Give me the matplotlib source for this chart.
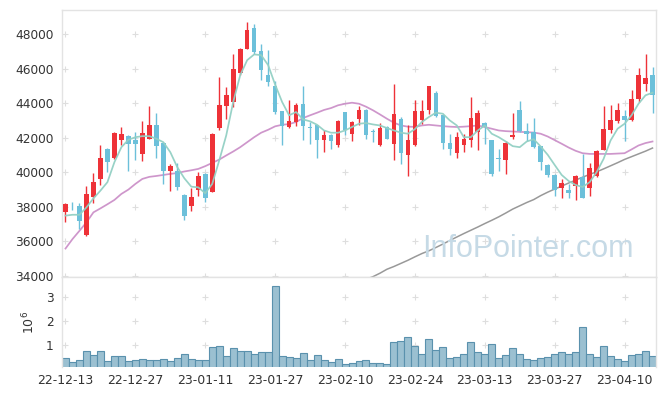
import matplotlib
matplotlib.use("Agg")
import matplotlib.pyplot as plt
import numpy as np

dates = (
    ["22-12-13", "22-12-14", "22-12-15", "22-12-16", "22-12-19", "22-12-20", "22-12-21",
     "22-12-22", "22-12-23", "22-12-26", "22-12-27", "22-12-28", "22-12-29"]
    + ["23-01-02", "23-01-03", "23-01-04", "23-01-05", "23-01-06", "23-01-09", "23-01-10",
       "23-01-11", "23-01-12", "23-01-13", "23-01-16", "23-01-17", "23-01-18", "23-01-19",
       "23-01-20", "23-01-25", "23-01-26", "23-01-27", "23-01-30", "23-01-31"]
    + ["23-02-01", "23-02-02", "23-02-03", "23-02-06", "23-02-07", "23-02-08", "23-02-09",
       "23-02-10", "23-02-13", "23-02-14", "23-02-15", "23-02-16", "23-02-17", "23-02-20",
       "23-02-21", "23-02-22", "23-02-23", "23-02-24", "23-02-27", "23-02-28"]
    + ["23-03-02", "23-03-03", "23-03-06", "23-03-07", "23-03-08", "23-03-09", "23-03-10",
       "23-03-13", "23-03-14", "23-03-15", "23-03-16", "23-03-17", "23-03-20", "23-03-21",
       "23-03-22", "23-03-23", "23-03-24", "23-03-27", "23-03-28", "23-03-29", "23-03-30",
       "23-03-31"]
    + ["23-04-03", "23-04-04", "23-04-05", "23-04-06", "23-04-07", "23-04-10", "23-04-11",
       "23-04-12", "23-04-13", "23-04-14"]
)

open_ = [37680, 38180, 38050, 36380, 38550, 39640, 41370, 40820, 41870, 42080,
         41890, 41060, 41950, 42720, 41710, 40070, 40100, 38710, 38070, 38960,
         39930, 38880, 42570, 43850, 44080, 45770, 47170, 48350, 47030, 45670,
         44990, 43580, 42630, 42920, 43980, 42610, 42720, 41850, 42140, 41560,
         43480, 42220, 43070, 43600, 42370, 41580, 42610, 41640, 43070, 41020,
         41560, 43010, 43600, 44590, 43310, 41680, 41130, 41570, 41850, 42340,
         42880, 41850, 40840, 40740, 42040, 43640, 42390, 42340, 41500, 40450,
         39850, 39100, 39000, 39190, 39740, 39080, 39790, 41310, 42430, 42960,
         43250, 43010, 44240, 45150, 45670]
close = [38160, 38140, 37160, 38750, 39460, 40840, 40590, 42300, 42240, 41620,
         41660, 42260, 42720, 41520, 40070, 40380, 39130, 37490, 38590, 39760,
         38530, 42200, 43890, 44510, 45980, 47150, 48250, 46990, 45920, 45250,
         43500, 42670, 42960, 43930, 42680, 42570, 41870, 42140, 41790, 42960,
         42430, 42940, 43600, 42180, 42340, 42550, 41930, 43400, 41110, 41850,
         43580, 43580, 44990, 43270, 41680, 41330, 42060, 41920, 43130, 43460,
         42610, 39890, 40800, 41700, 42140, 42370, 42200, 41460, 40590, 39870,
         38980, 39370, 38790, 39810, 38530, 40280, 41210, 42530, 43050, 43640,
         43010, 44280, 45630, 45480, 44510]
high = [38200, 38300, 38200, 39190, 39970, 41600, 41400, 42340, 42630, 42140,
        42340, 43000, 43830, 43460, 41750, 40470, 40530, 38730, 39080, 40010,
        39970, 42300, 45520, 44970, 46890, 47190, 48700, 48580, 47460, 47070,
        45280, 43580, 44220, 44000, 44990, 42920, 42760, 42470, 42240, 43030,
        43500, 43000, 43830, 43650, 42530, 42880, 42670, 45150, 43190, 42720,
        44220, 44220, 45010, 44740, 43340, 42240, 42340, 42220, 44350, 43600,
        42920, 41870, 41370, 41790, 43460, 44120, 42880, 43150, 41520, 40490,
        39890, 39620, 39330, 39850, 41070, 40550, 41310, 43830, 43890, 44040,
        43620, 44800, 46060, 46890, 46120]
low = [37100, 37830, 36710, 36320, 38220, 39270, 40010, 40780, 41560, 40050,
       40730, 40670, 41910, 40840, 39330, 38940, 38980, 37230, 37740, 38610,
       38260, 38840, 42430, 43110, 43790, 45670, 47150, 46860, 45380, 44990,
       43360, 41600, 42570, 42680, 41850, 41660, 40840, 41190, 41370, 41460,
       42140, 41790, 42760, 41950, 41750, 41520, 41910, 40720, 40510, 39810,
       41520, 42820, 43360, 43210, 41370, 41020, 40840, 41170, 41460, 41290,
       41660, 39790, 40090, 39910, 41910, 42340, 41790, 41440, 40160, 39720,
       38650, 38510, 38490, 38420, 38490, 38650, 39720, 41270, 42300, 42880,
       41810, 42960, 44100, 44700, 43460]

# volume in millions of shares
volume = [0.46, 0.29, 0.38, 0.75, 0.58, 0.75, 0.33, 0.54, 0.54, 0.33,
          0.38, 0.42, 0.38, 0.38, 0.42, 0.33, 0.46, 0.63, 0.42, 0.38,
          0.38, 0.92, 0.96, 0.54, 0.88, 0.75, 0.75, 0.63, 0.71, 0.71,
          3.47, 0.54, 0.50, 0.46, 0.67, 0.38, 0.58, 0.38, 0.29, 0.42,
          0.21, 0.25, 0.33, 0.38, 0.25, 0.25, 0.21, 1.13, 1.17, 1.33,
          0.96, 0.63, 1.25, 0.79, 0.92, 0.46, 0.50, 0.63, 1.13, 0.71,
          0.63, 1.04, 0.46, 0.58, 0.88, 0.63, 0.42, 0.38, 0.46, 0.50,
          0.63, 0.71, 0.63, 0.71, 1.75, 0.63, 0.50, 0.96, 0.54, 0.42,
          0.33, 0.58, 0.63, 0.75, 0.54]

ma5 = [37490, 37540, 37540, 37970, 38490, 38940, 39430, 40590, 41460, 41890,
       42040, 42100, 42100, 41950, 41750, 41170, 40300, 39660, 39170, 39130,
       38790, 39330, 40690, 42140, 44080, 45630, 46510, 46840, 46800, 46220,
       45090, 44080, 43310, 43500, 43070, 42960, 42760, 42430, 42300, 42300,
       42430, 42630, 42820, 42860, 42780, 42720, 42570, 42430, 42300, 42240,
       42510, 42920, 43210, 43460, 43400, 43010, 42720, 42040, 42040, 42430,
       42720, 42240, 42040, 41790, 41520, 41460, 41790, 41920, 41500, 41020,
       40430, 39850, 39500, 39270, 39150, 39430, 40010, 40780, 41850, 42530,
       42820, 43310, 43980, 44470, 44620]
ma20 = [35580, 36130, 36610, 37100, 37680, 37910, 38150, 38400, 38750, 39000,
        39330, 39620, 39740, 39790, 39850, 39910, 39960, 40050, 40120, 40200,
        40360, 40550, 40740, 40980, 41210, 41460, 41750, 42040, 42300, 42470,
        42670, 42760, 42800, 42920, 43150, 43310, 43460, 43620, 43730, 43890,
        43980, 44040, 43980, 43810, 43600, 43360, 43110, 42880, 42720, 42650,
        42640, 42720, 42760, 42720, 42680, 42650, 42630, 42650, 42680, 42720,
        42630, 42530, 42430, 42390, 42370, 42350, 42330, 42310, 42240, 42080,
        41870, 41660, 41440, 41250, 41110, 41070, 41070, 41070, 41070, 41090,
        41110, 41330, 41560, 41700, 41790]
ma60_start = 43
ma60 = [33800, 33950, 34150, 34380, 34540, 34720, 34900, 35100, 35290, 35450,
        35640, 35840, 36050, 36250, 36450, 36640, 36830, 37030, 37220, 37420,
        37640, 37870, 38060, 38250, 38420, 38650, 38850, 39030, 39200, 39380,
        39550, 39720, 39880, 40030, 40200, 40380, 40560, 40750, 40910, 41070,
        41230, 41410]

price_ticks = [34000, 36000, 38000, 40000, 42000, 44000, 46000, 48000]
vol_ticks = [1, 2, 3]

UP = "#ee3238"
DOWN = "#6cc0da"
TEXT = "#333333"
SPINE = "#e3e3e3"

plt.rcParams["font.family"] = "DejaVu Sans"

fig = plt.figure(figsize=(6.65, 3.96), dpi=100)
ax = fig.add_axes([62 / 665, 1 - 277 / 396, 594 / 665, 266.7 / 396])
axv = fig.add_axes([62 / 665, 1 - 367.3 / 396, 594 / 665, 90.3 / 396], sharex=ax)

x = np.arange(len(dates))
o = np.array(open_)
c = np.array(close)
h = np.array(high)
lo = np.array(low)
up = c >= o
colors = np.where(up, UP, DOWN)

# watermark
fig.text(528 / 665, 1 - 249 / 396, "InfoPointer.com", ha="center", va="center",
         fontsize=22, family="Liberation Sans", color="#c6dae6", zorder=0)

# grid crosses
tick_idx = list(range(0, len(dates), 10))
gx, gy = np.meshgrid(tick_idx, price_ticks)
ax.scatter(gx.ravel(), gy.ravel(), marker="+", s=16, color="#dedede", linewidths=0.8, zorder=1)
gx, gy = np.meshgrid(tick_idx, vol_ticks)
axv.scatter(gx.ravel(), gy.ravel(), marker="+", s=16, color="#dedede", linewidths=0.8, zorder=1)

# moving averages
ax.plot(x, ma20, color="#c98bc6", lw=1.25, alpha=0.9, zorder=2)
ax.plot(x[ma60_start:], ma60, color="#999999", lw=1.1, zorder=2)
ax.plot(x, ma5, color="#93d0c4", lw=1.25, alpha=0.95, zorder=4)

# candles
ax.vlines(x, lo, h, colors=colors, lw=1.0, zorder=3)
body = np.maximum(np.abs(c - o), 40)
ax.bar(x, body, bottom=np.minimum(o, c), width=0.66, color=colors, lw=0, zorder=3)

ax.set_xlim(-0.5, len(dates) - 0.5)
ax.set_ylim(33930, 49400)
ax.set_yticks(price_ticks)
ax.tick_params(axis="y", length=0, pad=6, labelsize=8.7, labelcolor=TEXT)
ax.tick_params(axis="x", length=0, labelbottom=False)

# volume
axv.bar(x, volume, width=1.0, color="#9bc0d1", edgecolor="#5a91ad", lw=0.8, zorder=2)
axv.set_ylim(0.083, 3.85)
axv.set_yticks(vol_ticks)
axv.set_ylabel("$10^{6}$", color=TEXT, fontsize=9, labelpad=6)
axv.set_xticks(tick_idx)
axv.set_xticklabels([dates[i] for i in tick_idx])
axv.tick_params(axis="y", length=0, pad=6, labelsize=8.7, labelcolor=TEXT)
axv.tick_params(axis="x", length=0, pad=5, labelsize=9, labelcolor=TEXT)

for a in (ax, axv):
    for s in a.spines.values():
        s.set_color(SPINE)
        s.set_linewidth(1.0)
axv.spines["bottom"].set_visible(False)

fig.savefig("out.png", dpi=100)
